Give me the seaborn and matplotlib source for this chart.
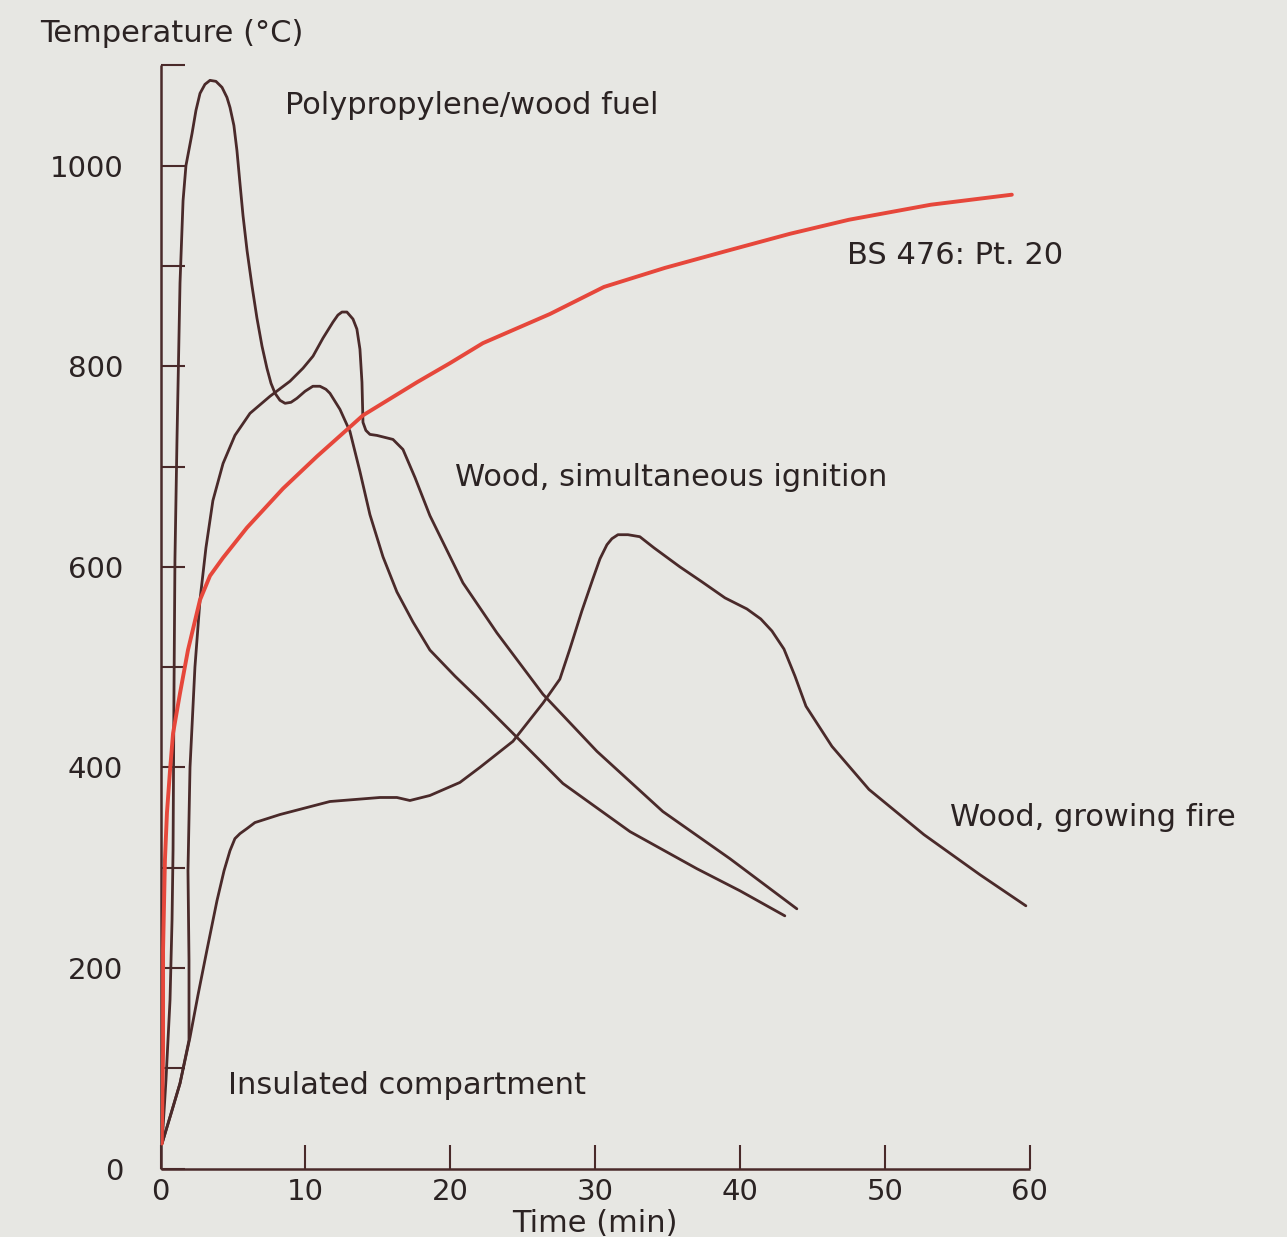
import matplotlib
matplotlib.use("Agg")
import matplotlib.pyplot as plt
import pandas as pd
import seaborn as sns

# ---- temperature-time curves (time in min, temperature in °C) ----
pp_time = [0.1, 0.37, 0.65, 0.79, 0.86, 0.92, 0.99, 1.13, 1.34, 1.55, 1.75, 2.17, 2.44,
           2.72, 3.06, 3.41, 3.82, 4.24, 4.58, 4.79, 5.06, 5.27, 5.48, 5.69, 5.97, 6.31,
           6.65, 7.0, 7.34, 7.62, 7.9, 8.24, 8.59, 9.0, 9.41, 9.97, 10.51, 11.0, 11.41,
           11.69, 12.38, 13.07, 13.76, 14.45, 15.35, 16.31, 17.42, 18.59, 20.32, 22.04,
           24.32, 27.77, 32.4, 37.02, 39.99, 43.09]
pp_temp = [25, 88, 168, 248, 318, 467, 607, 726, 883, 965, 1000, 1032, 1055,
           1072, 1081, 1085, 1084, 1078, 1068, 1058, 1040, 1015, 982, 950, 915, 880,
           848, 820, 798, 783, 773, 766, 763, 764, 768, 775, 780, 780, 777,
           773, 757, 735, 695, 652, 610, 575, 545, 517, 491, 467,
           434, 384, 336, 299, 277, 252]

sim_time = [0.1, 1.34, 1.96, 1.96, 1.89, 2.03, 2.37, 2.72, 3.13, 3.61, 4.31, 5.13, 6.17,
            7.55, 8.93, 9.83, 10.52, 11.21, 11.9, 12.24, 12.52, 12.86, 13.28, 13.55,
            13.76, 13.9, 13.97, 14.17, 14.45, 14.93, 16.04, 16.73, 17.56, 18.59, 20.87,
            23.22, 26.39, 30.12, 34.67, 39.3, 43.92]
sim_temp = [25, 85, 128, 208, 297, 400, 500, 567, 619, 666, 703, 731, 753,
            770, 785, 798, 810, 828, 844, 851, 854, 854, 847, 837,
            817, 784, 744, 736, 732, 731, 727, 717, 689, 651, 584,
            534, 473, 416, 356, 309, 259]

grow_time = [0.1, 0.79, 1.34, 2.03, 2.58, 3.2, 3.89, 4.38, 4.79, 5.13, 5.48, 5.96, 6.51,
             8.24, 11.69, 15.14, 16.31, 17.21, 18.59, 20.66, 22.04, 24.32, 26.39, 27.56,
             28.25, 29.08, 29.84, 30.33, 30.81, 31.15, 31.57, 32.26, 33.08, 34.05, 35.84,
             37.37, 38.96, 40.47, 41.43, 42.2, 43.03, 43.79, 44.55, 46.34, 48.9, 52.69,
             56.56, 59.73]
grow_temp = [25, 58, 85, 131, 173, 218, 267, 297, 317, 329, 334, 339, 345,
             353, 366, 370, 370, 367, 372, 385, 400, 426, 464, 488,
             518, 556, 588, 608, 622, 628, 632, 632, 630, 619, 600,
             585, 569, 558, 548, 536, 518, 491, 461, 421, 378, 333,
             293, 262]

bs_time = [0.08, 0.17, 0.17, 0.3, 0.44, 0.65, 0.86, 1.34, 1.89, 2.72, 3.41, 4.31, 5.96,
           8.45, 10.79, 13.97, 17.7, 19.97, 22.25, 26.87, 30.6, 34.81, 39.09, 43.44,
           47.51, 53.17, 58.76]
bs_temp = [25, 118, 218, 308, 355, 397, 434, 474, 517, 567, 591, 609, 639,
           678, 710, 751, 784, 803, 823, 852, 879, 898, 915, 932,
           946, 961, 971]

x_ticks = [0, 10, 20, 30, 40, 50, 60]
y_ticks = list(range(0, 1101, 100))
y_labels = [str(v) if v % 200 == 0 and v <= 1000 else "" for v in y_ticks]

curves = {
    "Polypropylene/wood fuel": (pp_time, pp_temp),
    "Wood, simultaneous ignition": (sim_time, sim_temp),
    "Wood, growing fire": (grow_time, grow_temp),
    "BS 476: Pt. 20": (bs_time, bs_temp),
}
df = pd.concat(
    [pd.DataFrame({"time": t, "temp": T, "curve": name}) for name, (t, T) in curves.items()],
    ignore_index=True,
)

W, H = 1287, 1237
sns.set_theme(style="ticks")
plt.rcParams["font.family"] = ["DejaVu Sans"]

paper = "#e7e7e3"
ink = "#4a2a2a"
text_col = "#2b2323"
red = "#e6473b"

fig = plt.figure(figsize=(W / 100, H / 100), dpi=100, facecolor=paper)
ax = fig.add_axes([160.6 / W, 68.4 / H, 869.2 / W, 1103.3 / H])
ax.set_facecolor("none")

styles = {
    "Polypropylene/wood fuel": (ink, 2.0, 2),
    "Wood, simultaneous ignition": (ink, 2.0, 2),
    "Wood, growing fire": (ink, 2.0, 2),
    "BS 476: Pt. 20": (red, 2.8, 3),
}
for name, (color, lw, z) in styles.items():
    line_ax = sns.lineplot(data=df[df["curve"] == name], x="time", y="temp", sort=False,
                           estimator=None, color=color, linewidth=lw, ax=ax, zorder=z,
                           legend=False)
for ln in ax.get_lines():
    ln.set_solid_joinstyle("round")
    ln.set_solid_capstyle("round")

ax.set_xlim(0, 60)
ax.set_ylim(0, 1100)
ax.set_xticks(x_ticks)
ax.set_yticks(y_ticks)
ax.set_yticklabels(y_labels)
for side in ("top", "right"):
    ax.spines[side].set_visible(False)
for side in ("left", "bottom"):
    ax.spines[side].set_color(ink)
    ax.spines[side].set_linewidth(1.8)
    ax.spines[side].set_capstyle("butt")
ax.tick_params(direction="in", length=17, width=1.5, color=ink,
               labelsize=21, labelcolor=text_col)
ax.tick_params(axis="x", pad=7)
ax.tick_params(axis="y", pad=27)

ax.set_xlabel("Time (min)", fontsize=22, color=text_col, va="center")
ax.xaxis.set_label_coords(0.5, -(1224 - 1168.6) / 1103.3)
ax.set_ylabel("Temperature (°C)", fontsize=22, color=text_col, rotation=0,
              ha="left", va="center")
ax.yaxis.set_label_coords((40 - 160.6) / 869.2, (1168.6 - 33) / 1103.3)


def label(x_px, y_px, s):
    fig.text(x_px / W, 1 - y_px / H, s, fontsize=22, color=text_col,
             ha="left", va="center")


label(285, 106, "Polypropylene/wood fuel")
label(847, 256, "BS 476: Pt. 20")
label(455, 477, "Wood, simultaneous ignition")
label(950, 818, "Wood, growing fire")
label(228, 1085, "Insulated compartment")

fig.savefig("out.png", dpi=100, facecolor=paper)
